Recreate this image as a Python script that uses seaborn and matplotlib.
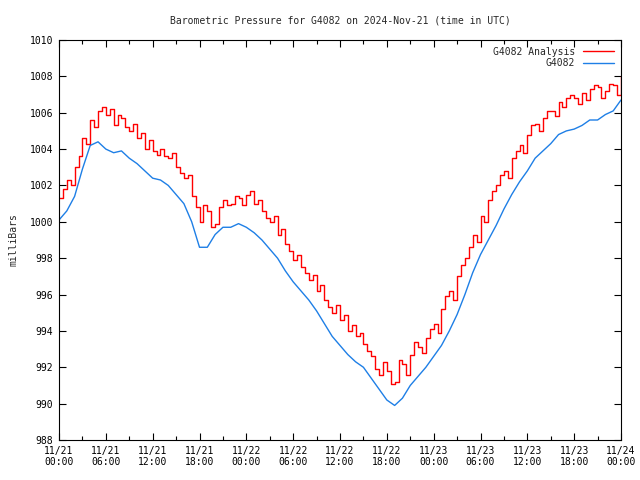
import matplotlib
matplotlib.use("Agg")

import numpy as np
import pandas as pd
import matplotlib.pyplot as plt
from matplotlib.ticker import MultipleLocator
import seaborn as sns

# ===============================
# data (hours since 11/21 00:00 UTC)
# ===============================
# G4082 observed, hourly
hours_obs = list(range(0, 73))
g4082 = [
    1000.1, 1000.6, 1001.4, 1002.9, 1004.2, 1004.4, 1004.0, 1003.8, 1003.9, 1003.5,
    1003.2, 1002.8, 1002.4, 1002.3, 1002.0, 1001.5, 1001.0, 1000.0, 998.6, 998.6,
    999.3, 999.7, 999.7, 999.9, 999.7, 999.4, 999.0, 998.5, 998.0, 997.3,
    996.7, 996.2, 995.7, 995.1, 994.4, 993.7, 993.2, 992.7, 992.3, 992.0,
    991.4, 990.8, 990.2, 989.9, 990.3, 991.0, 991.5, 992.0, 992.6, 993.2,
    994.0, 994.9, 996.0, 997.2, 998.2, 999.0, 999.8, 1000.7, 1001.5, 1002.2,
    1002.8, 1003.5, 1003.9, 1004.3, 1004.8, 1005.0, 1005.1, 1005.3, 1005.6, 1005.6,
    1005.9, 1006.1, 1006.7,
]

# G4082 Analysis, every 30 min
hours_ana = [h / 2 for h in range(0, 145)]
g4082_analysis = [
    1001.3, 1001.8, 1002.3, 1002.0, 1003.0, 1003.6, 1004.6, 1004.3, 1005.6, 1005.2,
    1006.1, 1006.3, 1005.9, 1006.2, 1005.3, 1005.9, 1005.7, 1005.2, 1005.0, 1005.4,
    1004.6, 1004.9, 1004.0, 1004.5, 1003.9, 1003.7, 1004.0, 1003.6, 1003.5, 1003.8,
    1003.0, 1002.7, 1002.4, 1002.6, 1001.4, 1000.8, 1000.0, 1000.9, 1000.6, 999.7,
    999.9, 1000.8, 1001.2, 1000.9, 1001.0, 1001.4, 1001.3, 1000.9, 1001.5, 1001.7,
    1001.0, 1001.2, 1000.6, 1000.2, 1000.0, 1000.3, 999.3, 999.6, 998.8, 998.4,
    997.9, 998.2, 997.5, 997.2, 996.8, 997.1, 996.2, 996.5, 995.7, 995.3,
    995.0, 995.4, 994.6, 994.9, 994.0, 994.3, 993.7, 993.9, 993.3, 992.9,
    992.6, 991.9, 991.6, 992.3, 991.8, 991.1, 991.2, 992.4, 992.2, 991.6,
    992.7, 993.4, 993.1, 992.8, 993.6, 994.1, 994.4, 993.9, 995.2, 995.9,
    996.2, 995.7, 997.0, 997.6, 998.0, 998.6, 999.3, 998.9, 1000.3, 1000.0,
    1001.2, 1001.7, 1002.0, 1002.6, 1002.8, 1002.4, 1003.5, 1003.9, 1004.2, 1003.8,
    1004.8, 1005.3, 1005.4, 1005.0, 1005.7, 1006.1, 1006.1, 1005.8, 1006.6, 1006.3,
    1006.8, 1007.0, 1006.8, 1006.5, 1007.1, 1006.7, 1007.3, 1007.5, 1007.4, 1006.8,
    1007.2, 1007.6, 1007.5, 1007.0, 1008.0,
]

tick_hours = list(range(0, 73, 6))
tick_labels = [
    "11/21\n00:00", "11/21\n06:00", "11/21\n12:00", "11/21\n18:00",
    "11/22\n00:00", "11/22\n06:00", "11/22\n12:00", "11/22\n18:00",
    "11/23\n00:00", "11/23\n06:00", "11/23\n12:00", "11/23\n18:00",
    "11/24\n00:00",
]

df_ana = pd.DataFrame({"hours": hours_ana, "pressure": g4082_analysis})
df_obs = pd.DataFrame({"hours": hours_obs, "pressure": g4082})

# ===============================
# style
# ===============================
sns.set_style("ticks")
plt.rcParams["font.family"] = ["DejaVu Sans Mono"]
plt.rcParams["font.size"] = 7

fig = plt.figure(figsize=(6.4, 4.8), dpi=100)
ax = fig.add_axes([59 / 640, 40 / 480, 562 / 640, 400 / 480])

sns.lineplot(data=df_ana, x="hours", y="pressure", ax=ax, color="#ff0000",
             linewidth=1.0, drawstyle="steps-post", label="G4082 Analysis")
sns.lineplot(data=df_obs, x="hours", y="pressure", ax=ax, color="#1e7fe6",
             linewidth=1.0, label="G4082")

ax.set_xlim(0, 72)
ax.set_ylim(988, 1010)
ax.set_xticks(tick_hours)
ax.set_xticklabels(tick_labels)
ax.xaxis.set_minor_locator(MultipleLocator(3))
ax.yaxis.set_major_locator(MultipleLocator(2))

ax.tick_params(axis="both", which="both", direction="in", top=True, right=True,
               colors="black", labelsize=7, width=0.8)
ax.tick_params(axis="both", which="major", length=5, pad=4)
ax.tick_params(axis="both", which="minor", length=3)
for s in ax.spines.values():
    s.set_linewidth(0.8)
    s.set_color("black")

ax.set_xlabel("")
ax.set_ylabel("milliBars", fontsize=7, labelpad=8)
ax.set_title("Barometric Pressure for G4082 on 2024-Nov-21 (time in UTC)",
             fontsize=7, pad=12)

ax.legend(loc="upper right", frameon=False, markerfirst=False, fontsize=7,
          handlelength=3.2, borderaxespad=0.3, labelspacing=0.15)

plt.savefig("out.png", dpi=100)
plt.close()
